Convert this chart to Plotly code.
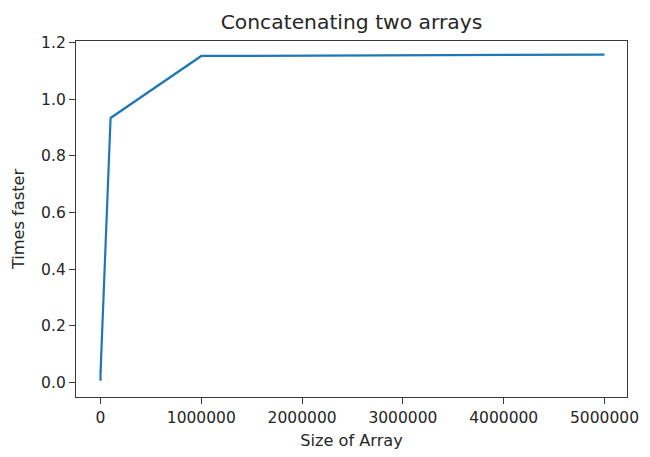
import plotly.graph_objects as go

# Benchmark results: speed-up of concatenation versus array size
sizes = [10, 100, 1000, 10000, 100000, 1000000, 5000000]
times_faster = [0.045, 0.006, 0.035, 0.12, 0.934, 1.153, 1.158]

x_ticks = [0, 1000000, 2000000, 3000000, 4000000, 5000000]
y_ticks = [0.0, 0.2, 0.4, 0.6, 0.8, 1.0, 1.2]

FONT = "DejaVu Sans"
TEXT = "#262626"
SPINE = "#3a3a3a"

fig = go.Figure(
    go.Scatter(
        x=sizes,
        y=times_faster,
        mode="lines",
        line=dict(color="#1f77b4", width=2.2),
        showlegend=False,
    )
)

axis_common = dict(
    showgrid=False,
    zeroline=False,
    showline=True,
    linecolor=SPINE,
    linewidth=1.3,
    mirror=True,
    ticks="outside",
    ticklen=6,
    tickwidth=1.3,
    tickcolor=SPINE,
    tickfont=dict(family=FONT, size=15.5, color=TEXT),
)

fig.update_xaxes(
    **axis_common,
    range=[-243000, 5223000],
    tickmode="array",
    tickvals=x_ticks,
    ticktext=[str(v) for v in x_ticks],
    title=dict(text="Size of Array", font=dict(family=FONT, size=16.2, color=TEXT), standoff=8),
)
fig.update_yaxes(
    **axis_common,
    range=[-0.0517, 1.2059],
    tickmode="array",
    tickvals=y_ticks,
    ticktext=[f"{v:.1f}" for v in y_ticks],
    title=dict(text="Times faster", font=dict(family=FONT, size=16.2, color=TEXT), standoff=12),
)

fig.update_layout(
    width=650,
    height=457,
    autosize=False,
    margin=dict(l=76, r=11, t=41, b=51),
    paper_bgcolor="white",
    plot_bgcolor="white",
    title=dict(
        text="Concatenating two arrays",
        font=dict(family=FONT, size=20.3, color=TEXT),
        x=0.5,
        xref="paper",
        y=1 - 22 / 457,
        yref="container",
        yanchor="middle",
    ),
)

fig.write_html("out.html")
